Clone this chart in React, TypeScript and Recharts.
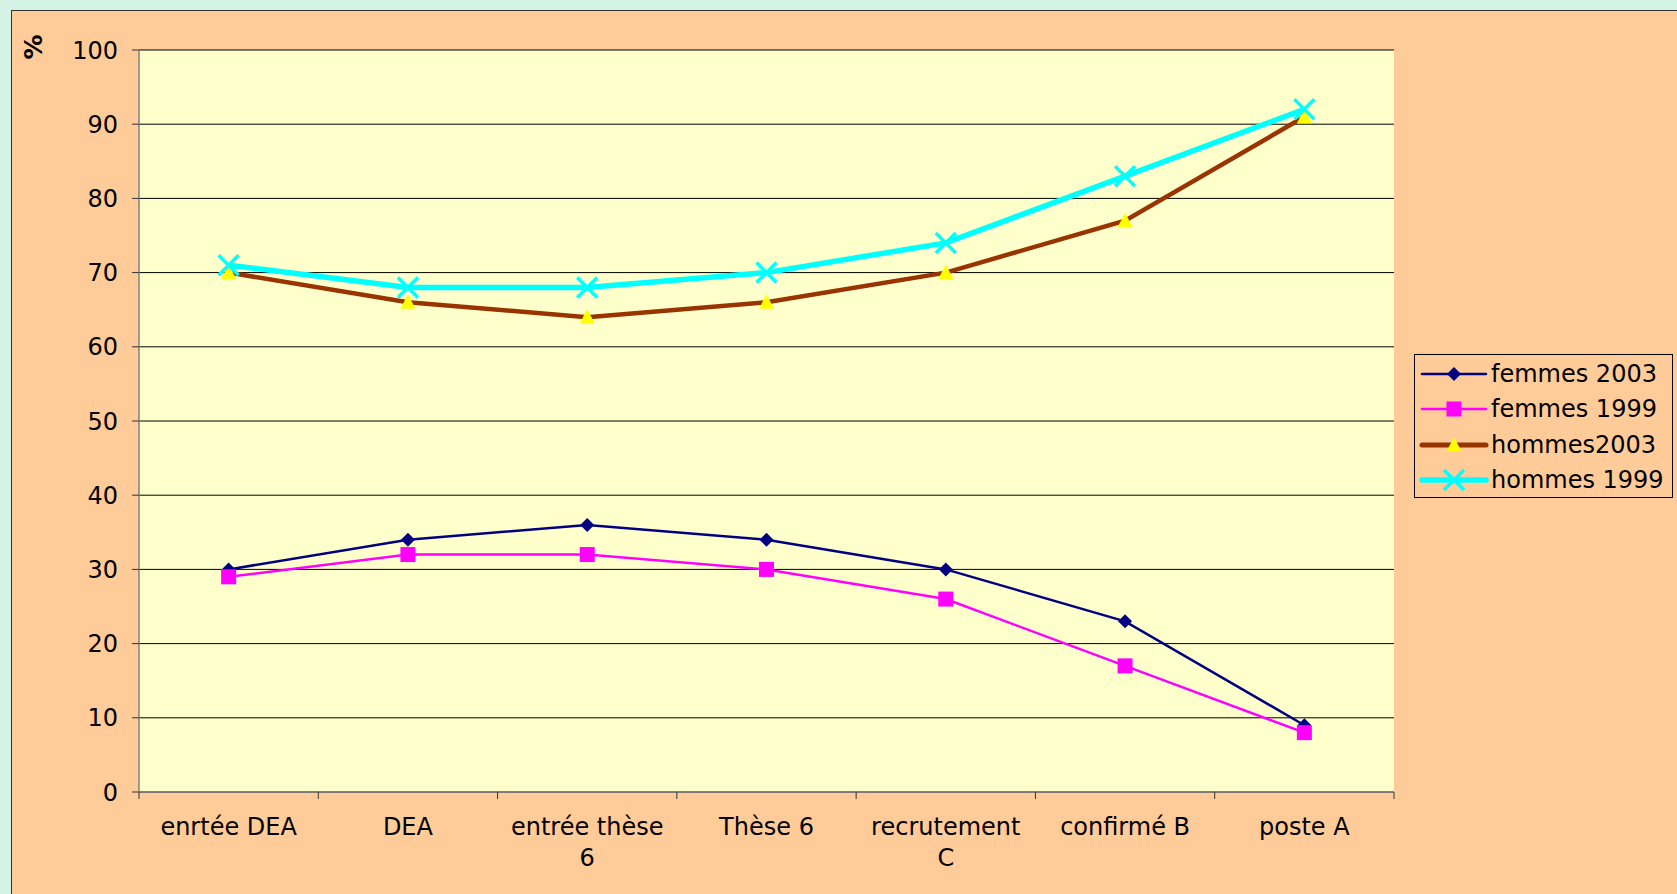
import React from 'react';
import { LineChart, Line, XAxis, YAxis, CartesianGrid, Legend } from 'recharts';

const categories = ['enrtée DEA', 'DEA', 'entrée thèse 6', 'Thèse 6', 'recrutement C', 'confirmé B', 'poste A'];
const femmes2003 = [30, 34, 36, 34, 30, 23, 9];
const femmes1999 = [29, 32, 32, 30, 26, 17, 8];
const hommes2003 = [70, 66, 64, 66, 70, 77, 91];
const hommes1999 = [71, 68, 68, 70, 74, 83, 92];
const yTicks = [0, 10, 20, 30, 40, 50, 60, 70, 80, 90, 100];
const xBoundaryTicks = [0, 1, 2, 3, 4, 5, 6, 7];

const data = categories.map((c, i) => ({
  x: i + 0.5,
  cat: c,
  f2003: femmes2003[i],
  f1999: femmes1999[i],
  h2003: hommes2003[i],
  h1999: hommes1999[i],
}));

const FONT = '"DejaVu Sans", Verdana, sans-serif';
const W = 1677;
const H = 894;
const MARGIN = { top: 50, right: 283, bottom: 22, left: 79 };
const PLOT_W = W - MARGIN.left - 60 - MARGIN.right;
const BAND = PLOT_W / categories.length;

let ctx: CanvasRenderingContext2D | null = null;
const measure = (s: string) => {
  if (!ctx) {
    const c = document.createElement('canvas');
    ctx = c.getContext('2d');
  }
  if (!ctx) return s.length * 14;
  ctx.font = `24px "DejaVu Sans"`;
  return ctx.measureText(s).width;
};
const wrap = (s: string, maxW: number) => {
  const words = s.split(' ');
  const lines: string[] = [];
  let cur = '';
  for (const w of words) {
    const t = cur ? cur + ' ' + w : w;
    if (cur && measure(t) > maxW) {
      lines.push(cur);
      cur = w;
    } else cur = t;
  }
  if (cur) lines.push(cur);
  return lines;
};

const Diamond = (p: any) => {
  const { cx, cy } = p;
  if (cx == null || cy == null) return <g key={p.key} />;
  const r = 7;
  return <path key={p.key} d={`M${cx},${cy - r}L${cx + r},${cy}L${cx},${cy + r}L${cx - r},${cy}Z`} fill="#000080" />;
};
const Square = (p: any) => {
  const { cx, cy } = p;
  if (cx == null || cy == null) return <g key={p.key} />;
  const r = 7.5;
  return <rect key={p.key} x={cx - r} y={cy - r} width={2 * r} height={2 * r} fill="#ff00ff" />;
};
const Triangle = (p: any) => {
  const { cx, cy } = p;
  if (cx == null || cy == null) return <g key={p.key} />;
  return <path key={p.key} d={`M${cx},${cy - 8}L${cx + 7.5},${cy + 6.5}L${cx - 7.5},${cy + 6.5}Z`} fill="#ffff00" />;
};
const Cross = (p: any) => {
  const { cx, cy } = p;
  if (cx == null || cy == null) return <g key={p.key} />;
  const r = 10;
  return (
    <path
      key={p.key}
      d={`M${cx - r},${cy - r}L${cx + r},${cy + r}M${cx + r},${cy - r}L${cx - r},${cy + r}`}
      stroke="#00ffff"
      strokeWidth={3.5}
      fill="none"
    />
  );
};

const XTick = (props: any) => {
  const { x, y, payload } = props;
  const v = payload.value;
  if (v >= categories.length) return <g />;
  const lines = wrap(categories[v], 168);
  return (
    <text x={x + BAND / 2} y={y + 34} textAnchor="middle" fontSize={24} fontFamily={FONT} fill="#000">
      {lines.map((l, i) => (
        <tspan key={i} x={x + BAND / 2} dy={i === 0 ? 0 : 31}>
          {l}
        </tspan>
      ))}
    </text>
  );
};

const legendItems = [
  { name: 'femmes 2003', color: '#000080', width: 2.5, marker: 'diamond' },
  { name: 'femmes 1999', color: '#ff00ff', width: 2.5, marker: 'square' },
  { name: 'hommes2003', color: '#993300', width: 5, marker: 'triangle' },
  { name: 'hommes 1999', color: '#00ffff', width: 5.5, marker: 'cross' },
];

const LegendContent = () => (
  <div
    style={{
      width: 257,
      height: 141,
      border: '1px solid #000',
      background: '#ffcc99',
      fontFamily: FONT,
      fontSize: 24,
      color: '#000',
      paddingTop: 1,
      boxSizing: 'content-box',
    }}
  >
    {legendItems.map((it, i) => (
      <div key={i} style={{ display: 'flex', alignItems: 'center', height: 35.5, whiteSpace: 'nowrap' }}>
        <svg width={76} height={30} style={{ flex: 'none' }}>
          <line x1={7} x2={71} y1={15} y2={15} stroke={it.color} strokeWidth={it.width} strokeLinecap="round" />
          {it.marker === 'diamond' && <Diamond cx={39} cy={15} />}
          {it.marker === 'square' && <Square cx={39} cy={15} />}
          {it.marker === 'triangle' && <Triangle cx={39} cy={15} />}
          {it.marker === 'cross' && <Cross cx={39} cy={15} />}
        </svg>
        <span>{it.name}</span>
      </div>
    ))}
  </div>
);

export default function App() {
  return (
    <div style={{ position: 'absolute', left: 0, top: 0, width: W, height: H, background: '#d5f2e6', overflow: 'hidden' }}>
      <div
        style={{
          position: 'absolute',
          left: 11,
          top: 10,
          width: W,
          height: H,
          background: '#ffcc99',
          borderLeft: '1px solid #333',
          borderTop: '1px solid #333',
        }}
      />
      <div style={{ position: 'absolute', left: 0, top: 0 }}>
        <LineChart width={W} height={H} data={data} margin={MARGIN}>
          <CartesianGrid vertical={false} stroke="#000" fill="#ffffcc" />
          <XAxis
            dataKey="x"
            type="number"
            domain={[0, 7]}
            ticks={xBoundaryTicks}
            interval={0}
            height={80}
            tickSize={7}
            tickMargin={2}
            axisLine={{ stroke: '#808080', strokeWidth: 1.5 }}
            tickLine={{ stroke: '#333' }}
            tick={<XTick />}
          />
          <YAxis
            type="number"
            domain={[0, 100]}
            ticks={yTicks}
            interval={0}
            width={60}
            tickSize={7}
            tickMargin={14}
            axisLine={{ stroke: '#808080', strokeWidth: 1.5 }}
            tickLine={{ stroke: '#333' }}
            tick={{ fontSize: 24, fontFamily: FONT, fill: '#000' }}
            label={{
              content: () => (
                <text
                  x={42}
                  y={47}
                  transform="rotate(-90 42 47)"
                  textAnchor="middle"
                  fontFamily={FONT}
                  fontWeight="bold"
                  fontSize={25}
                  fill="#000"
                >
                  %
                </text>
              ),
            }}
          />
          <Legend
            layout="vertical"
            align="center"
            verticalAlign="middle"
            wrapperStyle={{ position: 'absolute', left: 1414, top: 354, width: 259, height: 143 }}
            content={<LegendContent />}
          />
          <Line dataKey="f2003" name="femmes 2003" stroke="#000080" strokeWidth={2.5} dot={Diamond} activeDot={false} isAnimationActive={false} />
          <Line dataKey="f1999" name="femmes 1999" stroke="#ff00ff" strokeWidth={2.5} dot={Square} activeDot={false} isAnimationActive={false} />
          <Line dataKey="h2003" name="hommes2003" stroke="#993300" strokeWidth={4.5} dot={Triangle} activeDot={false} isAnimationActive={false} />
          <Line dataKey="h1999" name="hommes 1999" stroke="#00ffff" strokeWidth={5.5} dot={Cross} activeDot={false} isAnimationActive={false} />
        </LineChart>
      </div>
    </div>
  );
}
